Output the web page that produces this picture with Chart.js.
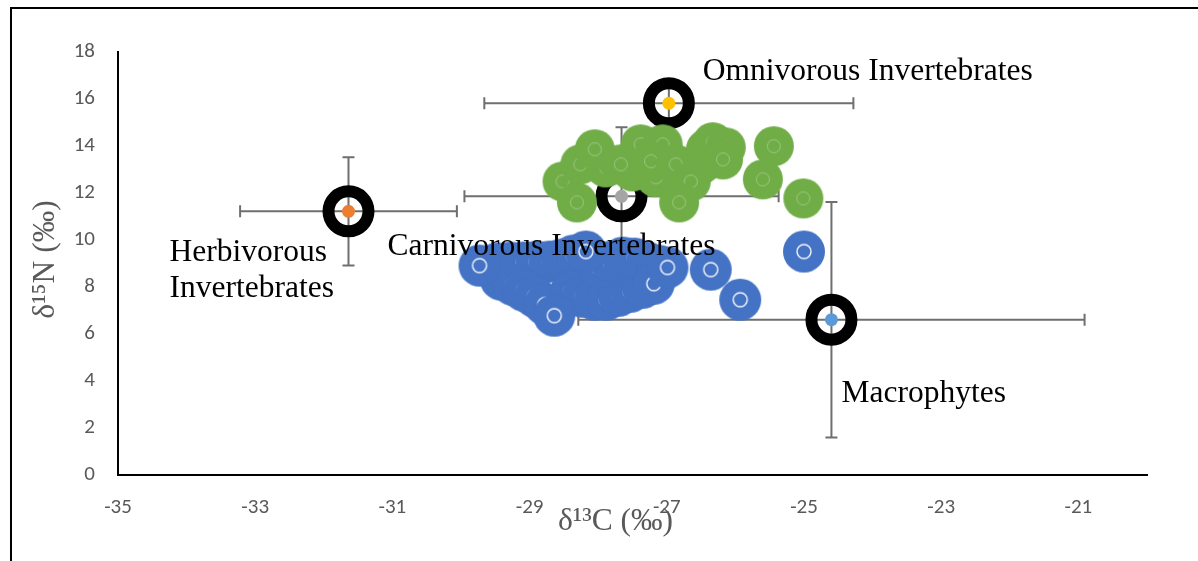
<!DOCTYPE html>
<html>
<head>
<meta charset="utf-8">
<script src="https://cdn.jsdelivr.net/npm/chart.js@4.4.1/dist/chart.umd.min.js"></script>
<style>
  html, body { margin: 0; padding: 0; background: #ffffff; }
  #wrap { position: relative; width: 1198px; height: 561px; }
</style>
</head>
<body>
<div id="wrap"><canvas id="c" width="1198" height="561"></canvas></div>
<script>
// Group means (δ13C, δ15N) with their standard deviations
const groupNames = ['Herbivorous Invertebrates', 'Omnivorous Invertebrates', 'Carnivorous Invertebrates', 'Macrophytes'];
const groupC = [-31.64, -26.97, -27.66, -24.60];
const groupN = [11.22, 15.82, 11.86, 6.61];
const groupSdC = [1.58, 2.69, 2.29, 3.69];
const groupSdN = [2.30, 0.80, 2.94, 5.01];

// Individual samples: lower trophic cluster
const blueC = [-29.47, -29.28, -29.09, -28.90, -28.71, -28.53, -28.36,
               -29.42, -29.25, -29.09, -28.93, -28.78,
               -28.40, -28.23, -28.05, -27.88, -27.70, -27.53, -27.35,
               -27.99, -27.82, -27.64, -27.47, -27.29, -27.13,
               -28.18, -28.64, -27.19, -26.99, -29.73, -26.36, -25.93, -25.00];
const blueN = [9.00, 9.04, 9.04, 9.08, 9.08, 9.17, 9.34,
               8.32, 8.10, 7.85, 7.59, 7.25,
               7.80, 7.59, 7.46, 7.46, 7.63, 7.80, 7.97,
               8.83, 9.08, 9.25, 9.21, 9.04, 8.91,
               9.51, 6.78, 8.14, 8.83, 8.91, 8.74, 7.46, 9.51];

// Individual samples: upper trophic cluster
const greenC = [-27.89, -27.50, -27.16, -26.50,
                -28.52, -28.31, -28.26, -28.05, -27.67, -27.38, -27.06, -27.23, -26.87, -26.65,
                -26.82, -26.43, -26.33, -26.14, -26.18, -25.44, -25.60, -25.01];
const greenN = [13.09, 12.92, 12.67, 13.22,
                12.49, 11.60, 13.22, 13.86, 13.22, 14.07, 14.07, 13.35, 13.22, 12.49,
                11.60, 13.86, 14.16, 13.94, 13.43, 13.99, 12.58, 11.77];

// Axis ticks
const xTickValues = [-35, -33, -31, -29, -27, -25, -23, -21];
const yTickValues = [0, 2, 4, 6, 8, 10, 12, 14, 16, 18];

// ---- styling ----
const groupDotColors = ['#ed7d31', '#ffc000', '#a5a5a5', '#5b9bd5'];
const serif = '"Liberation Serif", "Times New Roman", serif';
const labelFont = '31.5px ' + serif;
// label anchor offsets (pixels from each group mean), one entry per line
const labelOffsets = [
  [{ dx: -179, dy: 50, text: 'Herbivorous' }, { dx: -179, dy: 86, text: 'Invertebrates' }],
  [{ dx: 34, dy: -23, text: 'Omnivorous Invertebrates' }],
  [{ dx: -234, dy: 59, text: 'Carnivorous Invertebrates' }],
  [{ dx: 10, dy: 82, text: 'Macrophytes' }]
];

function discSprite(fill, ring, r, ringR, ringW) {
  const s = document.createElement('canvas');
  const size = Math.ceil(r * 2 + 2);
  s.width = size; s.height = size;
  const g = s.getContext('2d');
  const c = size / 2;
  g.fillStyle = fill;
  g.beginPath(); g.arc(c, c, r, 0, Math.PI * 2); g.fill();
  g.strokeStyle = ring; g.lineWidth = ringW;
  g.beginPath(); g.arc(c, c, ringR, 0, Math.PI * 2); g.stroke();
  return s;
}
const blueSprite = discSprite('#4472c4', 'rgba(255,255,255,0.95)', 21, 7, 1.4);
const greenSprite = discSprite('#70ad47', 'rgba(255,255,255,0.3)', 20, 6.5, 1);

const pts = (xs, ys) => xs.map((x, i) => ({ x: x, y: ys[i] }));

const framePlugin = {
  id: 'frame',
  beforeDraw(chart) {
    const ctx = chart.ctx;
    ctx.save();
    ctx.fillStyle = '#ffffff';
    ctx.fillRect(0, 0, chart.width, chart.height);
    ctx.strokeStyle = '#000000';
    ctx.lineWidth = 2;
    ctx.beginPath();
    ctx.moveTo(11, chart.height);
    ctx.lineTo(11, 8);
    ctx.lineTo(chart.width, 8);
    ctx.stroke();
    ctx.restore();
  }
};

const errorBarPlugin = {
  id: 'errorBars',
  beforeDatasetsDraw(chart) {
    const ctx = chart.ctx;
    const xs = chart.scales.x, ys = chart.scales.y;
    const cap = 6;
    ctx.save();
    ctx.strokeStyle = '#6f6f6f';
    ctx.lineWidth = 2;
    ctx.lineCap = 'butt';
    groupC.forEach((c, i) => {
      const n = groupN[i];
      const px = xs.getPixelForValue(c), py = ys.getPixelForValue(n);
      const x0 = xs.getPixelForValue(c - groupSdC[i]), x1 = xs.getPixelForValue(c + groupSdC[i]);
      const y0 = ys.getPixelForValue(n - groupSdN[i]), y1 = ys.getPixelForValue(n + groupSdN[i]);
      ctx.beginPath();
      ctx.moveTo(x0, py); ctx.lineTo(x1, py);
      ctx.moveTo(x0, py - cap); ctx.lineTo(x0, py + cap);
      ctx.moveTo(x1, py - cap); ctx.lineTo(x1, py + cap);
      ctx.moveTo(px, y0); ctx.lineTo(px, y1);
      ctx.moveTo(px - cap, y0); ctx.lineTo(px + cap, y0);
      ctx.moveTo(px - cap, y1); ctx.lineTo(px + cap, y1);
      ctx.stroke();
    });
    ctx.restore();
  }
};

const groupLabelPlugin = {
  id: 'groupLabels',
  afterDatasetsDraw(chart) {
    const ctx = chart.ctx;
    const xs = chart.scales.x, ys = chart.scales.y;
    ctx.save();
    ctx.font = labelFont;
    ctx.fillStyle = '#000000';
    ctx.textAlign = 'left';
    ctx.textBaseline = 'alphabetic';
    groupC.forEach((c, i) => {
      const px = xs.getPixelForValue(c), py = ys.getPixelForValue(groupN[i]);
      labelOffsets[i].forEach(l => ctx.fillText(l.text, px + l.dx, py + l.dy));
    });
    ctx.restore();
  }
};

const axisTitlePlugin = {
  id: 'axisTitles',
  afterDraw(chart) {
    const ctx = chart.ctx;
    const a = chart.chartArea;
    ctx.save();
    ctx.font = labelFont;
    ctx.fillStyle = '#595959';
    ctx.textAlign = 'center';
    ctx.textBaseline = 'middle';
    ctx.fillText('δ¹³C (‰)', (a.left + a.right) / 2 - 17, a.bottom + 47);
    ctx.translate(a.left - 72, (a.top + a.bottom) / 2 - 4);
    ctx.rotate(-Math.PI / 2);
    ctx.fillText('δ¹⁵N (‰)', 0, 0);
    ctx.restore();
  }
};

const tickFont = { family: 'Carlito, Lato, "Open Sans", sans-serif', size: 21 };

new Chart(document.getElementById('c'), {
  type: 'scatter',
  data: {
    datasets: [
      { // centre dots of the group means
        label: 'means',
        data: pts(groupC, groupN),
        pointRadius: 6.5,
        pointBorderWidth: 0,
        pointBackgroundColor: groupDotColors,
        order: 0
      },
      {
        label: 'upper',
        data: pts(greenC, greenN),
        pointStyle: greenSprite,
        pointRadius: 20,
        order: 1
      },
      {
        label: 'lower',
        data: pts(blueC, blueN),
        pointStyle: blueSprite,
        pointRadius: 21,
        order: 2
      },
      { // black rings around the group means
        label: 'rings',
        data: pts(groupC, groupN),
        pointRadius: 20,
        pointBorderWidth: 12,
        pointBorderColor: '#000000',
        pointBackgroundColor: 'rgba(0,0,0,0)',
        order: 3
      }
    ]
  },
  options: {
    responsive: false,
    animation: false,
    events: [],
    layout: { padding: { top: 52, right: 51, left: 0, bottom: 0 } },
    plugins: { legend: { display: false }, tooltip: { enabled: false } },
    scales: {
      x: {
        type: 'linear',
        min: -35,
        max: -20,
        grid: { display: false, drawTicks: false },
        border: { display: true, color: '#000000', width: 2 },
        afterBuildTicks: s => { s.ticks = xTickValues.map(v => ({ value: v })); },
        afterFit: s => { s.height = 86; },
        ticks: { color: '#595959', font: tickFont, padding: 20, maxRotation: 0, autoSkip: false }
      },
      y: {
        type: 'linear',
        min: 0,
        max: 18,
        grid: { display: false, drawTicks: false },
        border: { display: true, color: '#000000', width: 2 },
        afterBuildTicks: s => { s.ticks = yTickValues.map(v => ({ value: v })); },
        afterFit: s => { s.width = 118; },
        ticks: { color: '#595959', font: tickFont, padding: 23 }
      }
    }
  },
  plugins: [framePlugin, errorBarPlugin, groupLabelPlugin, axisTitlePlugin]
});
</script>
</body>
</html>
